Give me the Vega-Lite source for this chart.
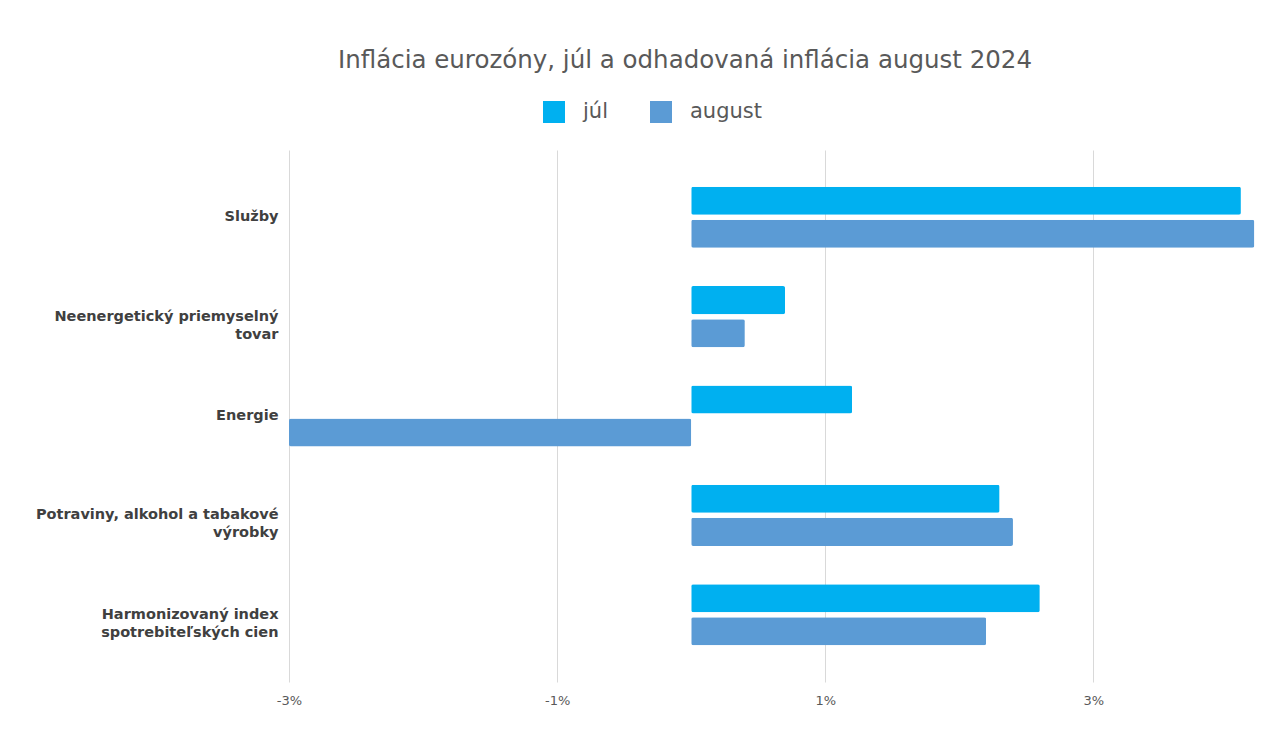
{
  "$schema": "https://vega.github.io/schema/vega-lite/v6.json",
  "width": 972,
  "height": 532,
  "autosize": {"type": "none"},
  "padding": {"left": 289, "top": 150, "right": 5, "bottom": 58},
  "background": "white",
  "title": {
    "text": "Inflácia eurozóny, júl a odhadovaná inflácia august 2024",
    "font": "DejaVu Sans",
    "fontSize": 24.5,
    "fontWeight": "normal",
    "color": "#595959",
    "anchor": "middle",
    "frame": "group",
    "dx": -90,
    "offset": 28
  },
  "data": {
    "values": [
      {"kategoria": "Služby", "mesiac": "júl", "hodnota": 4.1},
      {"kategoria": "Služby", "mesiac": "august", "hodnota": 4.2},
      {"kategoria": "Neenergetický priemyselný tovar", "mesiac": "júl", "hodnota": 0.7},
      {"kategoria": "Neenergetický priemyselný tovar", "mesiac": "august", "hodnota": 0.4},
      {"kategoria": "Energie", "mesiac": "júl", "hodnota": 1.2},
      {"kategoria": "Energie", "mesiac": "august", "hodnota": -3.0},
      {"kategoria": "Potraviny, alkohol a tabakové výrobky", "mesiac": "júl", "hodnota": 2.3},
      {"kategoria": "Potraviny, alkohol a tabakové výrobky", "mesiac": "august", "hodnota": 2.4},
      {"kategoria": "Harmonizovaný index spotrebiteľských cien", "mesiac": "júl", "hodnota": 2.6},
      {"kategoria": "Harmonizovaný index spotrebiteľských cien", "mesiac": "august", "hodnota": 2.2}
    ]
  },
  "mark": {"type": "bar", "cornerRadius": 2},
  "encoding": {
    "y": {
      "field": "kategoria",
      "type": "nominal",
      "sort": ["Služby", "Neenergetický priemyselný tovar", "Energie", "Potraviny, alkohol a tabakové výrobky", "Harmonizovaný index spotrebiteľských cien"],
      "scale": {"paddingInner": 0.385, "paddingOuter": 0.37},
      "axis": {
        "title": null,
        "domain": false,
        "ticks": false,
        "labelPadding": 11,
        "labelFont": "DejaVu Sans",
        "labelFontSize": 14.5,
        "labelFontWeight": "bold",
        "labelColor": "#404040",
        "labelLineHeight": 18,
        "labelLimit": 300,
        "labelExpr": "datum.label == 'Neenergetický priemyselný tovar' ? ['Neenergetický priemyselný', 'tovar'] : datum.label == 'Potraviny, alkohol a tabakové výrobky' ? ['Potraviny, alkohol a tabakové', 'výrobky'] : datum.label == 'Harmonizovaný index spotrebiteľských cien' ? ['Harmonizovaný index', 'spotrebiteľských cien'] : datum.label"
      }
    },
    "yOffset": {
      "field": "mesiac",
      "type": "nominal",
      "sort": ["júl", "august"],
      "scale": {"paddingInner": 0.15}
    },
    "x": {
      "field": "hodnota",
      "type": "quantitative",
      "scale": {"domain": [-3, 4.25], "nice": false, "zero": false},
      "axis": {
        "title": null,
        "values": [-3, -1, 1, 3],
        "labelExpr": "datum.value + '%'",
        "labelFlush": false,
        "domain": false,
        "ticks": false,
        "grid": true,
        "gridColor": "#d9d9d9",
        "gridWidth": 1,
        "labelPadding": 12,
        "labelFont": "DejaVu Sans",
        "labelFontSize": 13,
        "labelColor": "#595959"
      }
    },
    "color": {
      "field": "mesiac",
      "type": "nominal",
      "sort": ["júl", "august"],
      "scale": {"domain": ["júl", "august"], "range": ["#00B0F0", "#5B9BD5"]},
      "legend": {
        "title": null,
        "orient": "none",
        "direction": "horizontal",
        "legendX": 254,
        "legendY": -49,
        "padding": 0,
        "symbolType": "square",
        "symbolSize": 484,
        "symbolStrokeWidth": 0,
        "symbolOpacity": 1,
        "labelFont": "DejaVu Sans",
        "labelFontSize": 21,
        "labelColor": "#595959",
        "labelOffset": 18,
        "columnPadding": 42
      }
    }
  },
  "config": {"view": {"stroke": null}}
}
